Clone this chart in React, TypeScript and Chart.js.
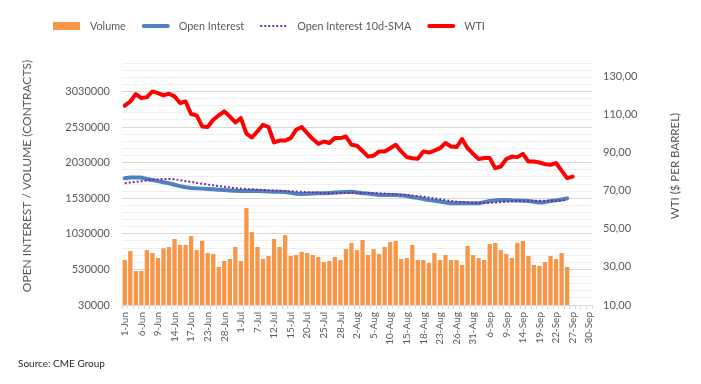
import React, { useEffect, useRef } from "react";
import { Chart, registerables } from "chart.js";

Chart.register(...registerables);

const FONT = "Lato, 'Open Sans', sans-serif";
const TEXT_COLOR = "#595959";

// Trading days (category axis)
const DATES = [
  "1-Jun", "2-Jun", "3-Jun", "6-Jun", "7-Jun", "8-Jun", "9-Jun", "10-Jun", "13-Jun", "14-Jun",
  "15-Jun", "16-Jun", "17-Jun", "21-Jun", "22-Jun", "23-Jun", "24-Jun", "27-Jun", "28-Jun", "29-Jun",
  "30-Jun", "1-Jul", "5-Jul", "6-Jul", "7-Jul", "8-Jul", "11-Jul", "12-Jul", "13-Jul", "14-Jul",
  "15-Jul", "18-Jul", "19-Jul", "20-Jul", "21-Jul", "22-Jul", "25-Jul", "26-Jul", "27-Jul", "28-Jul",
  "29-Jul", "1-Aug", "2-Aug", "3-Aug", "4-Aug", "5-Aug", "8-Aug", "9-Aug", "10-Aug", "11-Aug",
  "12-Aug", "15-Aug", "16-Aug", "17-Aug", "18-Aug", "19-Aug", "22-Aug", "23-Aug", "24-Aug", "25-Aug",
  "26-Aug", "29-Aug", "30-Aug", "31-Aug", "1-Sep", "2-Sep", "6-Sep", "7-Sep", "8-Sep", "9-Sep",
  "12-Sep", "13-Sep", "14-Sep", "15-Sep", "16-Sep", "19-Sep", "20-Sep", "21-Sep", "22-Sep", "23-Sep",
  "26-Sep", "27-Sep", "28-Sep", "29-Sep", "30-Sep",
];

// Volume (contracts)
const VOLUME = [
  662000, 788000, 507000, 507000, 802000, 760000, 690000, 826000, 845000, 957000,
  873000, 873000, 999000, 802000, 929000, 760000, 746000, 564000, 648000, 676000,
  845000, 648000, 1392000, 1055000, 845000, 676000, 718000, 957000, 845000, 1013000,
  718000, 732000, 774000, 760000, 732000, 704000, 634000, 648000, 704000, 662000,
  816000, 901000, 802000, 943000, 732000, 816000, 746000, 845000, 915000, 929000,
  676000, 690000, 873000, 662000, 662000, 620000, 760000, 662000, 732000, 662000,
  662000, 592000, 859000, 732000, 690000, 662000, 887000, 901000, 802000, 746000,
  690000, 901000, 929000, 718000, 592000, 578000, 634000, 718000, 676000, 760000,
  564000,
];

// Open interest (contracts)
const OPEN_INTEREST = [
  1810000, 1820000, 1822000, 1820000, 1800000, 1786000, 1770000, 1755000, 1740000, 1720000,
  1700000, 1685000, 1675000, 1669000, 1665000, 1660000, 1655000, 1650000, 1646000, 1640000,
  1635000, 1631000, 1633000, 1636000, 1632000, 1628000, 1623000, 1621000, 1622000, 1618000,
  1605000, 1592000, 1589000, 1592000, 1596000, 1599000, 1599000, 1605000, 1610000, 1615000,
  1618000, 1620000, 1612000, 1600000, 1595000, 1585000, 1575000, 1575000, 1575000, 1575000,
  1570000, 1560000, 1545000, 1535000, 1520000, 1505000, 1495000, 1485000, 1470000, 1460000,
  1458000, 1462000, 1460000, 1458000, 1458000, 1475000, 1490000, 1500000, 1505000, 1505000,
  1500000, 1498000, 1495000, 1490000, 1480000, 1470000, 1475000, 1490000, 1500000, 1512000,
  1528000,
];

// Open interest 10-day SMA (contracts)
const OI_SMA = [
  1740000, 1750000, 1760000, 1770000, 1780000, 1790000, 1795000, 1800000, 1800000, 1795000,
  1785000, 1770000, 1760000, 1745000, 1735000, 1722000, 1712000, 1702000, 1692000, 1682000,
  1672000, 1666000, 1660000, 1655000, 1650000, 1645000, 1641000, 1637000, 1634000, 1631000,
  1628000, 1624000, 1620000, 1615000, 1610000, 1606000, 1603000, 1601000, 1601000, 1602000,
  1604000, 1606000, 1608000, 1607000, 1605000, 1603000, 1600000, 1595000, 1590000, 1585000,
  1580000, 1575000, 1568000, 1560000, 1550000, 1540000, 1528000, 1515000, 1503000, 1492000,
  1482000, 1475000, 1470000, 1466000, 1463000, 1462000, 1464000, 1468000, 1474000, 1480000,
  1486000, 1491000, 1494000, 1496000, 1496000, 1495000, 1494000, 1494000, 1496000, 1500000,
  1505000,
];

// WTI ($ per barrel)
const WTI = [
  114.6, 116.8, 120.7, 118.6, 119.1, 122.1, 121.2, 120.0, 120.9, 119.5,
  116.0, 116.8, 110.2, 109.5, 103.7, 103.4, 107.2, 109.5, 111.6, 108.9,
  105.8, 108.1, 99.9, 97.9, 101.2, 104.6, 103.4, 95.3, 96.3, 96.3,
  97.6, 102.0, 103.4, 100.2, 97.1, 94.6, 95.8, 95.0, 97.6, 97.6,
  98.4, 94.1, 93.6, 90.8, 87.9, 88.3, 90.6, 90.6, 92.3, 94.1,
  90.6, 87.6, 87.0, 86.7, 90.6, 90.0, 91.0, 92.3, 95.0, 93.2,
  92.9, 97.1, 92.3, 89.3, 86.6, 87.1, 87.1, 81.8, 82.7, 86.6,
  87.9, 87.6, 89.3, 85.3, 85.3, 84.8, 83.9, 83.6, 84.5, 80.5,
  76.6, 77.4,
];

// Axis settings
const LEFT_MIN = 30000;
const LEFT_MAX = 3430000;
const LEFT_MINOR_STEP = 100000;
const LEFT_MAJOR_EVERY = 5;
const WTI_MIN = 10;
const WTI_MAX = 137;
const WTI_TICKS = [10, 30, 50, 70, 90, 110, 130];
const X_LABEL_EVERY = 3;

const LEFT_TITLE = "OPEN INTEREST / VOLUME (CONTRACTS)";
const RIGHT_TITLE = "WTI ($ PER BARREL)";
const SOURCE = "Source: CME Group";

const overlayPlugin = {
  id: "overlay",
  afterDraw(chart: any) {
    const ctx = chart.ctx as CanvasRenderingContext2D;
    ctx.save();
    // Legend
    let x = 53;
    const cy = 26;
    ctx.font = `10.8px ${FONT}`;
    ctx.textBaseline = "middle";
    ctx.textAlign = "left";
    for (const ds of chart.data.datasets) {
      if (ds.type === "bar") {
        ctx.fillStyle = ds.backgroundColor;
        ctx.fillRect(x, cy - 4, 27, 8);
      } else {
        ctx.beginPath();
        ctx.strokeStyle = ds.borderColor;
        ctx.lineWidth = ds.borderWidth;
        if (ds.borderDash) {
          ctx.setLineDash(ds.borderDash);
          ctx.lineCap = "butt";
          ctx.moveTo(x, cy);
          ctx.lineTo(x + 28, cy);
        } else {
          ctx.setLineDash([]);
          ctx.lineCap = "round";
          ctx.moveTo(x + 2, cy);
          ctx.lineTo(x + 26, cy);
        }
        ctx.stroke();
        ctx.setLineDash([]);
      }
      x += 28 + 9;
      ctx.fillStyle = TEXT_COLOR;
      ctx.fillText(ds.label, x, cy + 1);
      x += ctx.measureText(ds.label).width + 16;
    }

    // Axis titles
    const area = chart.chartArea;
    ctx.fillStyle = TEXT_COLOR;
    ctx.textAlign = "center";
    ctx.font = `12px ${FONT}`;
    ctx.save();
    ctx.translate(27, (area.top + area.bottom) / 2 - 8);
    ctx.rotate(-Math.PI / 2);
    ctx.fillText(LEFT_TITLE, 0, 0);
    ctx.restore();

    ctx.font = `11.5px ${FONT}`;
    ctx.save();
    ctx.translate(675, (area.top + area.bottom) / 2 - 18);
    ctx.rotate(-Math.PI / 2);
    ctx.fillText(RIGHT_TITLE, 0, 0);
    ctx.restore();

    // Source
    ctx.textAlign = "left";
    ctx.fillStyle = "#262626";
    ctx.font = `10px ${FONT}`;
    ctx.fillText(SOURCE, 18, 364);
    ctx.restore();
  },
};

export default function App() {
  const canvasRef = useRef<HTMLCanvasElement | null>(null);

  useEffect(() => {
    if (!canvasRef.current) return;
    Chart.defaults.font.family = FONT;
    const chart = new Chart(canvasRef.current, {
      type: "bar",
      data: {
        labels: DATES,
        datasets: [
          {
            type: "bar",
            label: "Volume",
            data: VOLUME,
            backgroundColor: "#F79646",
            borderWidth: 0,
            barPercentage: 0.78,
            categoryPercentage: 1,
            yAxisID: "y",
            order: 4,
          },
          {
            type: "line",
            label: "Open Interest",
            data: OPEN_INTEREST,
            borderColor: "#4F81BD",
            borderWidth: 4,
            borderCapStyle: "round",
            borderJoinStyle: "round",
            pointRadius: 0,
            tension: 0,
            yAxisID: "y",
            order: 3,
          },
          {
            type: "line",
            label: "Open Interest 10d-SMA",
            data: OI_SMA,
            borderColor: "#7030A0",
            borderWidth: 2,
            borderDash: [2, 2],
            pointRadius: 0,
            tension: 0,
            yAxisID: "y",
            order: 2,
          },
          {
            type: "line",
            label: "WTI",
            data: WTI,
            borderColor: "#FF0000",
            borderWidth: 4,
            borderCapStyle: "round",
            borderJoinStyle: "round",
            pointRadius: 0,
            tension: 0,
            yAxisID: "y1",
            order: 1,
          },
        ] as any,
      },
      options: {
        animation: false,
        responsive: false,
        devicePixelRatio: 1,
        layout: { padding: { top: 63, left: 0, right: 0, bottom: 0 } },
        plugins: {
          legend: { display: false },
          tooltip: { enabled: false },
        },
        scales: {
          x: {
            type: "category",
            offset: true,
            grid: {
              display: true,
              drawOnChartArea: false,
              drawTicks: true,
              tickLength: 4,
              color: "#d9d9d9",
              offset: true,
            },
            border: { display: true, color: "#d9d9d9" },
            ticks: {
              autoSkip: false,
              maxRotation: 90,
              minRotation: 90,
              padding: 3,
              color: TEXT_COLOR,
              font: { family: FONT, size: 10 },
              callback: (_v: any, i: number) => (i % X_LABEL_EVERY === 0 ? DATES[i] : ""),
            },
            afterFit: (s: any) => {
              s.height = 79;
            },
          },
          y: {
            type: "linear",
            position: "left",
            min: LEFT_MIN,
            max: LEFT_MAX,
            grid: {
              drawTicks: false,
              color: (c: any) => {
                const k = Math.round((c.tick.value - LEFT_MIN) / LEFT_MINOR_STEP);
                return k % LEFT_MAJOR_EVERY === 0 ? "#d9d9d9" : "#efefef";
              },
            },
            border: { display: false },
            ticks: {
              stepSize: LEFT_MINOR_STEP,
              autoSkip: false,
              padding: 12,
              color: TEXT_COLOR,
              font: { family: FONT, size: 11 },
              callback: (v: any) => {
                const k = Math.round((v - LEFT_MIN) / LEFT_MINOR_STEP);
                return k % LEFT_MAJOR_EVERY === 0 ? String(Math.round(v)) : "";
              },
            },
            afterFit: (s: any) => {
              s.width = 122;
            },
          },
          y1: {
            type: "linear",
            position: "right",
            min: WTI_MIN,
            max: WTI_MAX,
            grid: { drawOnChartArea: false, drawTicks: false },
            border: { display: false },
            afterBuildTicks: (s: any) => {
              s.ticks = WTI_TICKS.map((v) => ({ value: v }));
            },
            ticks: {
              autoSkip: false,
              padding: 11,
              color: TEXT_COLOR,
              font: { family: FONT, size: 11 },
              callback: (v: any) => Number(v).toFixed(2).replace(".", ","),
            },
            afterFit: (s: any) => {
              s.width = 109;
            },
          },
        },
      } as any,
      plugins: [overlayPlugin],
    });
    return () => chart.destroy();
  }, []);

  return (
    <div style={{ position: "fixed", left: 0, top: 0, width: 701, height: 384, background: "#fff" }}>
      <canvas ref={canvasRef} width={701} height={384} style={{ display: "block", width: 701, height: 384 }} />
    </div>
  );
}
